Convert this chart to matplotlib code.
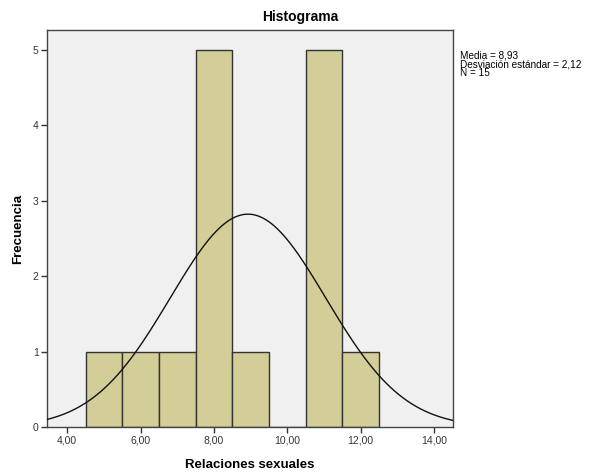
import numpy as np
import matplotlib
matplotlib.use("Agg")
import matplotlib.pyplot as plt

# datos del histograma (intervalos de ancho 1)
bin_edges = [4.5, 5.5, 6.5, 7.5, 8.5, 9.5, 10.5, 11.5, 12.5]
frecuencias = [1, 1, 1, 5, 1, 0, 5, 1]
media = 8.93
desv = 2.12
n = 15
x_ticks = [4, 6, 8, 10, 12, 14]
y_ticks = [0, 1, 2, 3, 4, 5]
estadisticos = ['Media = 8,93', 'Desviación estándar = 2,12', 'N = 15']

plt.rcParams['font.family'] = ['Liberation Sans', 'DejaVu Sans']

fig = plt.figure(figsize=(5.92, 4.72), dpi=100)
ax = fig.add_axes([47 / 592, 45 / 472, 406 / 592, 397 / 472])
ax.set_facecolor('#f0f0f0')

lefts = bin_edges[:-1]
widths = np.diff(bin_edges)
ax.bar(lefts, frecuencias, width=widths, align='edge', color='#d3ce97',
       edgecolor='#333333', linewidth=1.0, zorder=2)

# curva normal
xs = np.linspace(3.45, 14.52, 300)
bw = bin_edges[1] - bin_edges[0]
ys = n * bw / (desv * np.sqrt(2 * np.pi)) * np.exp(-0.5 * ((xs - media) / desv) ** 2)
ax.plot(xs, ys, color='#111111', linewidth=1.0, zorder=3)

ax.set_xlim(3.45, 14.52)
ax.set_ylim(0, 5.265)
ax.set_xticks(x_ticks)
ax.set_xticklabels([f"{t:.2f}".replace('.', ',') for t in x_ticks], fontsize=7.5)
ax.set_yticks(y_ticks)
ax.set_yticklabels([str(t) for t in y_ticks], fontsize=7.5)
ax.tick_params(direction='out', length=4, width=1, color='#333333', pad=2,
               labelcolor='#333333')
ax.tick_params(axis='x', top=False)
ax.tick_params(axis='y', right=False)
for s in ax.spines.values():
    s.set_color('#444444')
    s.set_linewidth(1.0)

ax.set_xlabel('Relaciones sexuales', fontsize=9.5, fontweight='bold', labelpad=10)
ax.set_ylabel('Frecuencia', fontsize=9.5, fontweight='bold')
ax.yaxis.set_label_coords(-23 / 406, 0.5)
fig.text(300 / 592, 1 - 17 / 472, 'Histograma', fontsize=10, fontweight='bold',
         ha='center', va='center')

fig.text(460 / 592, 1 - 50 / 472, '\n'.join(estadisticos),
         fontsize=7.2, ha='left', va='top', linespacing=0.9)

fig.savefig('out.png', dpi=100)
